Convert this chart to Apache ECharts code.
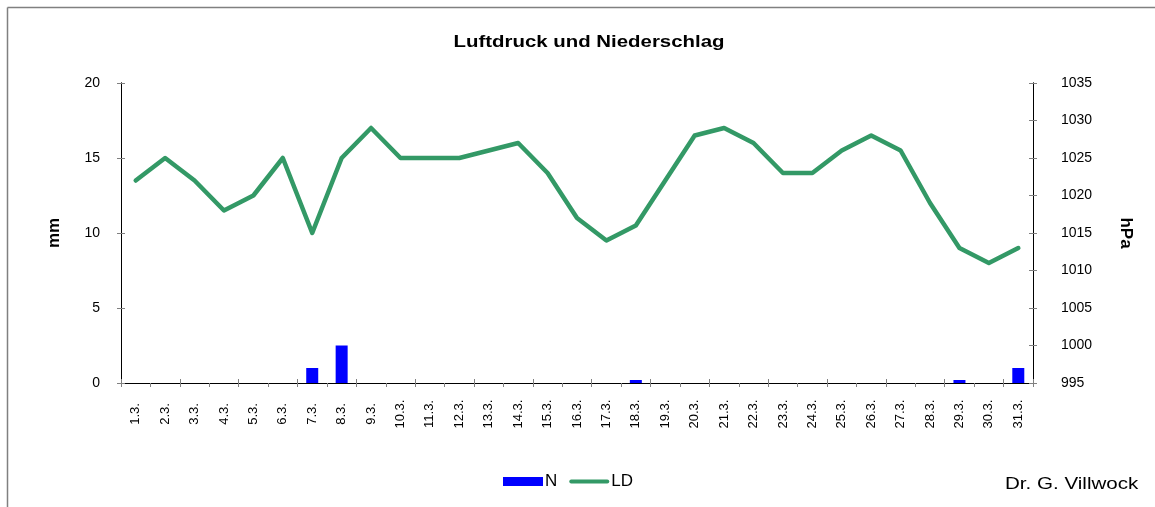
<!DOCTYPE html>
<html>
<head>
<meta charset="utf-8">
<script src="https://cdn.jsdelivr.net/npm/echarts@6/dist/echarts.min.js"></script>
<style>
html,body{margin:0;padding:0;background:#fff;}
#chart{width:1155px;height:507px;}
</style>
</head>
<body>
<div id="chart"></div>
<script>
const days = ["1.3.","2.3.","3.3.","4.3.","5.3.","6.3.","7.3.","8.3.","9.3.","10.3.","11.3.","12.3.","13.3.","14.3.","15.3.","16.3.","17.3.","18.3.","19.3.","20.3.","21.3.","22.3.","23.3.","24.3.","25.3.","26.3.","27.3.","28.3.","29.3.","30.3.","31.3."];
const niederschlag = [0,0,0,0,0,0,1.0,2.5,0,0,0,0,0,0,0,0,0,0.2,0,0,0,0,0,0,0,0,0,0,0.2,0,1.0];
const luftdruck = [1022,1025,1022,1018,1020,1025,1015,1025,1029,1025,1025,1025,1026,1027,1023,1017,1014,1016,1022,1028,1029,1027,1023,1023,1026,1028,1026,1019,1013,1011,1013];

const FONT = '"Liberation Sans", Arial, sans-serif';
const chart = echarts.init(document.getElementById('chart'), null, {renderer:'canvas'});

function yAx(pos, min, max, interval, inside, extra) {
  return Object.assign({
    type:'value', position:pos, min:min, max:max, interval:interval,
    splitLine:{show:false},
    axisLine:{show:true, lineStyle:{color:'#000', width:1}},
    axisTick:{show:true, inside:inside, length:4, lineStyle:{color:'#808080', width:1}},
    axisLabel:{show:!inside, color:'#000', fontFamily:FONT, fontSize:14},
  }, extra || {});
}

const ldIcon = 'path://M0,0 M40,9 M2,2.5 L38,2.5 A2,2 0 0 1 38,6.5 L2,6.5 A2,2 0 0 1 2,2.5 Z';

const option = {
  backgroundColor:'#fff',
  animation:false,
  grid:{left:121, right:122, top:83, bottom:124, containLabel:false},
  legend:{
    data:[{name:'N', icon:'rect'}, {name:'LD', icon:ldIcon, lineStyle:{opacity:0, width:0}}],
    left:498, top:468, itemWidth:40, itemHeight:9, itemGap:12,
    textStyle:{fontFamily:FONT, fontSize:17, color:'#000', padding:[0,0,0,-3]}
  },
  xAxis:[
    {type:'category', data:days, position:'bottom', boundaryGap:true,
     axisLine:{show:true, lineStyle:{color:'#000', width:1}},
     axisTick:{show:true, inside:false, length:4, lineStyle:{color:'#808080'}},
     axisLabel:{rotate:90, interval:0, margin:31, align:'center', verticalAlign:'middle',
                color:'#000', fontFamily:FONT, fontSize:13},
     splitLine:{show:false}},
    {type:'category', data:days, position:'bottom', boundaryGap:true,
     axisLine:{show:false},
     axisTick:{show:true, inside:true, length:4, lineStyle:{color:'#808080'}},
     axisLabel:{show:false}, splitLine:{show:false}}
  ],
  yAxis:[
    yAx('left', 0, 20, 5, false, {
      name:'mm', nameLocation:'middle', nameGap:58, nameRotate:90,
      nameTextStyle:{fontFamily:FONT, fontSize:17, fontWeight:'bold', color:'#000'},
      axisLabel:{color:'#000', fontFamily:FONT, fontSize:14, margin:21}
    }),
    yAx('left', 0, 20, 5, true),
    yAx('right', 995, 1035, 5, false, {
      name:'hPa', nameLocation:'middle', nameGap:84, nameRotate:-90,
      nameTextStyle:{fontFamily:FONT, fontSize:17, fontWeight:'bold', color:'#000'},
      axisLabel:{color:'#000', fontFamily:FONT, fontSize:14, margin:28,
                 formatter:function(v){return String(v);}}
    }),
    yAx('right', 995, 1035, 5, true)
  ],
  series:[
    {name:'N', type:'bar', xAxisIndex:0, yAxisIndex:0, data:niederschlag,
     barWidth:12, itemStyle:{color:'#0000FF'}},
    {name:'LD', type:'line', xAxisIndex:0, yAxisIndex:2, data:luftdruck,
     symbol:'none', showSymbol:false,
     lineStyle:{color:'#339966', width:4.5, cap:'round', join:'round'},
     itemStyle:{color:'#339966'}}
  ],
  graphic:[
    {type:'line', shape:{x1:7.5, y1:7.5, x2:1155, y2:7.5}, style:{stroke:'#808080', lineWidth:1.5}},
    {type:'line', shape:{x1:7.5, y1:7.5, x2:7.5, y2:507}, style:{stroke:'#808080', lineWidth:1.5}},
    {type:'text', x:589, y:42, scaleX:1.2,
     style:{text:'Luftdruck und Niederschlag', fill:'#000', align:'center', verticalAlign:'middle',
            font:'bold 17px "Liberation Sans", Arial, sans-serif'}},
    {type:'text', x:1005, y:484, scaleX:1.21,
     style:{text:'Dr. G. Villwock', fill:'#000', align:'left', verticalAlign:'middle',
            font:'17px "Liberation Sans", Arial, sans-serif'}}
  ]
};
chart.setOption(option);
</script>
</body>
</html>
